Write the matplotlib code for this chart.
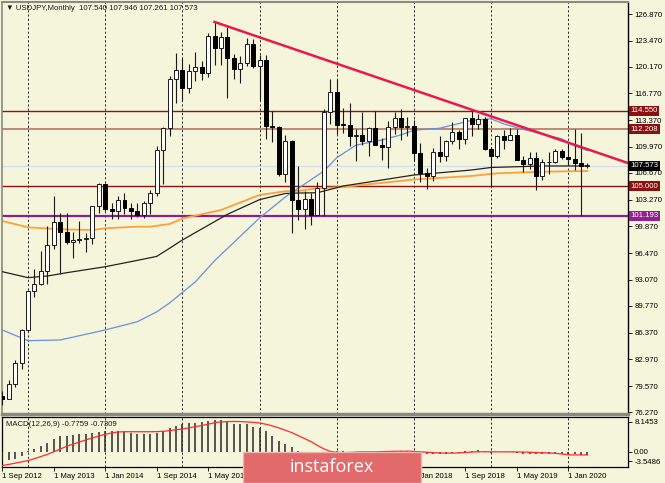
import matplotlib
matplotlib.use('Agg')
import matplotlib.pyplot as plt
import matplotlib.transforms as mtransforms
from matplotlib.patches import Rectangle
import numpy as np
import pandas as pd

plt.rcParams['font.family'] = ['Liberation Sans', 'DejaVu Sans']

# ---------------- data (monthly USDJPY, Sep 2012 .. Apr 2020) ----------------
opens = [78.30, 77.95, 79.77, 82.52,
         86.75, 91.71, 92.56, 94.22, 97.45, 100.45, 99.14, 97.88, 98.17, 98.26, 98.36, 102.44,
         105.30, 102.03, 101.79, 103.22, 102.22, 101.79, 101.32, 102.79, 104.07, 109.64, 112.32, 118.65,
         119.78, 117.49, 119.59, 120.12, 119.35, 124.13, 122.49, 123.91, 121.22, 119.87, 120.62, 123.09,
         120.21, 121.08, 112.67, 112.53, 106.50, 110.70, 103.20, 102.06, 103.41, 101.35, 104.81, 114.47,
         116.96, 112.79, 112.77, 111.39, 111.49, 110.76, 112.39, 110.25, 109.99, 112.51, 113.65, 112.53,
         112.69, 109.17, 106.67, 106.28, 109.33, 108.82, 110.67, 111.86, 111.03, 113.69, 112.92, 113.58,
         109.66, 108.87, 111.36, 110.85, 111.44, 108.27, 107.85, 108.57, 106.27, 108.07, 108.02, 109.50,
         108.68, 108.39, 107.90, 107.540]
highs = [78.95, 80.36, 82.84, 86.79,
         91.76, 94.46, 96.71, 99.95, 103.74, 101.53, 101.54, 99.15, 100.61, 99.00, 102.45, 105.41,
         105.44, 102.84, 103.76, 104.13, 102.79, 102.80, 103.14, 104.49, 110.09, 112.49, 118.98, 121.85,
         121.22, 120.48, 122.03, 120.84, 124.46, 125.86, 124.58, 125.28, 121.74, 121.49, 123.76, 123.68,
         121.68, 121.69, 114.55, 112.67, 111.45, 110.84, 107.49, 104.32, 104.08, 105.54, 114.83, 118.66,
         118.61, 114.95, 115.51, 112.20, 114.37, 112.47, 114.49, 111.05, 113.26, 114.45, 114.73, 113.75,
         113.39, 110.48, 107.29, 109.89, 111.40, 110.90, 113.18, 112.15, 113.70, 114.55, 114.21, 113.83,
         110.00, 111.48, 112.14, 112.40, 112.24, 108.80, 109.32, 109.32, 108.48, 109.29, 109.73, 109.73,
         110.29, 112.23, 111.71, 107.946]
lows = [77.13, 77.93, 79.40, 81.69,
        86.54, 90.85, 92.48, 92.57, 97.03, 93.79, 97.59, 95.80, 97.76, 96.56, 97.63, 101.62,
        101.77, 100.76, 100.75, 101.43, 100.81, 101.08, 100.99, 101.50, 103.76, 105.20, 111.30, 115.57,
        115.86, 116.86, 118.33, 118.52, 118.87, 120.40, 120.42, 116.13, 118.60, 118.06, 120.27, 119.99,
        115.98, 110.98, 110.66, 106.25, 105.54, 99.07, 100.67, 99.54, 100.09, 101.20, 101.19, 112.88,
        111.59, 111.69, 110.11, 108.13, 110.23, 108.81, 110.62, 108.26, 107.31, 111.65, 110.84, 111.40,
        108.28, 105.55, 104.63, 105.66, 108.11, 108.12, 110.28, 109.77, 110.38, 111.38, 112.30, 109.55,
        104.87, 108.52, 109.70, 110.84, 108.25, 106.78, 107.20, 104.46, 105.74, 106.48, 107.89, 108.43,
        107.65, 107.00, 101.18, 107.261]
closes = [77.95, 79.77, 82.52, 86.75,
          91.71, 92.56, 94.22, 97.45, 100.45, 99.14, 97.88, 98.17, 98.26, 98.36, 102.44, 105.30,
          102.03, 101.79, 103.22, 102.22, 101.79, 101.32, 102.79, 104.07, 109.64, 112.32, 118.65, 119.78,
          117.49, 119.59, 120.12, 119.35, 124.13, 122.49, 123.91, 121.22, 119.87, 120.62, 123.09, 120.21,
          121.08, 112.67, 112.53, 106.50, 110.70, 103.20, 102.06, 103.41, 101.35, 104.81, 114.47, 116.96,
          112.79, 112.77, 111.39, 111.49, 110.76, 112.39, 110.25, 109.99, 112.51, 113.65, 112.53, 112.69,
          109.17, 106.67, 106.28, 109.33, 108.82, 110.67, 111.86, 111.03, 113.69, 112.92, 113.58, 109.66,
          108.87, 111.36, 110.85, 111.44, 108.27, 107.85, 108.57, 106.27, 108.07, 108.02, 109.50, 108.68,
          108.39, 107.90, 107.54, 107.573]

dates = pd.date_range('2012-09-01', periods=len(closes), freq='MS')

# moving averages (month index, price)
ma_blue_idx = [0, 4, 9, 16, 21, 24, 26, 30, 33, 40, 44, 48, 50, 52, 55, 59, 62, 64, 68, 71, 73, 76, 78, 81, 87, 89, 91]
ma_blue_val = [86.70, 85.34, 85.43, 86.70, 87.75, 89.0, 90.13, 92.8, 95.5, 100.94, 103.6, 105.8, 106.9, 108.6,
               110.2, 110.85, 111.5, 112.1, 112.35, 112.95, 113.35, 113.55, 112.9, 112.2, 111.0, 110.1, 109.5]
ma_black_idx = [0, 4, 7, 10, 16, 21, 24, 26, 28, 35, 40, 44, 46, 49, 53, 64, 73, 76, 84, 91]
ma_black_val = [94.11, 93.35, 93.56, 93.98, 94.74, 95.55, 96.05, 97.08, 98.14, 101.4, 103.27, 104.05, 104.11,
                104.15, 105.0, 106.4, 107.04, 107.36, 107.55, 107.55]
ma_orange_idx = [0, 4, 9, 14, 16, 21, 23, 26, 28, 34, 40, 44, 46, 49, 53, 64, 73, 77, 84, 91]
ma_orange_val = [100.55, 99.75, 99.50, 99.41, 99.63, 99.83, 99.83, 100.17, 100.87, 101.95, 103.86, 104.34,
                 104.37, 104.71, 104.88, 105.83, 106.28, 106.62, 106.82, 106.91]

# MACD(12,26,9)
macd_main = [-2.2, -1.9, -1.6, -1.0, 0.1, 0.64, 1.27, 2.07, 3.1, 3.66, 3.8, 3.9, 4.06, 4.06, 4.3, 4.7,
             4.85, 4.85, 4.85, 4.7, 4.45, 4.2, 4.06, 4.06, 4.45, 4.85, 5.65, 6.05, 6.6, 6.84, 6.84, 7.08,
             7.24, 7.4, 7.4, 7.24, 6.6, 6.44, 6.44, 5.9, 5.65, 4.85, 3.66, 2.47, 1.83, 1.03, 0.2, -0.5,
             -1.1, -1.3, -0.8, -0.1, 0.1, 0.1, 0.05, -0.1, -0.1, 0.0, 0.0, -0.1, -0.05, 0.1, 0.1, 0.1,
             -0.1, -0.4, -0.5, -0.55, -0.5, -0.5, -0.3, -0.2, 0.1, 0.3, 0.4, 0.1, -0.2, -0.1, 0.0, 0.05,
             -0.2, -0.4, -0.45, -0.6, -0.6, -0.6, -0.5, -0.5, -0.45, -0.5, -0.7, -0.7759]
macd_signal = [-3.2, -2.95, -2.65, -2.35, -2.05, -1.6, -1.1, -0.6, 0.0, 0.65, 1.3, 1.8, 2.3, 2.8, 3.25, 3.7,
               4.1, 4.4, 4.65, 4.7, 4.7, 4.7, 4.7, 4.7, 4.72, 4.8, 4.95, 5.15, 5.35, 5.6, 5.9, 6.15,
               6.45, 6.8, 7.0, 7.08, 7.1, 7.08, 7.0, 6.9, 6.75, 6.45, 6.05, 5.6, 5.05, 4.5, 3.8, 3.1,
               2.4, 1.5, 0.7, 0.1, -0.1, -0.2, -0.15, -0.05, 0.0, 0.0, 0.0, 0.05, 0.1, 0.12, 0.15, 0.16,
               0.1, 0.0, -0.1, -0.2, -0.25, -0.3, -0.3, -0.25, -0.15, -0.05, 0.0, 0.02, 0.0, 0.0, 0.0, 0.0,
               -0.02, -0.05, -0.1, -0.15, -0.2, -0.25, -0.35, -0.5, -0.7, -0.72, -0.73, -0.7309]

# horizontal levels
levels = [114.550, 112.208, 105.000, 101.193]
level_labels = ['114.550', '112.208', '105.000', '101.193']
current_price = 107.573

# trend line anchors (Jun 2015 high, Oct 2018 touch)
trend_idx = [33, 73]
trend_val = [125.86, 114.70]

yticks = [126.87, 123.47, 120.17, 116.77, 113.37, 109.97, 106.67, 103.27, 99.87, 96.47, 93.07, 89.77,
          86.37, 82.97, 79.57, 76.27]
# time-axis labels every 8 months; those fully covered by the watermark are not shown
date_tick_idx = list(range(0, len(closes), 8))
date_label_idx = [i for i in date_tick_idx if i not in (40, 48, 56)]
grid_idx = list(range(4, len(closes), 12))

# ---------------- figure ----------------
BG = '#f5f5dc'
W, H = 665, 483
fig = plt.figure(figsize=(W / 100, H / 100), dpi=100, facecolor=BG)


def rect(l, t, r, b):
    return [l / W, 1 - b / H, (r - l) / W, (b - t) / H]


ax = fig.add_axes(rect(2, 2, 628, 414))
axm = fig.add_axes(rect(2, 417, 628, 467))
for a in (ax, axm):
    a.set_facecolor(BG)
    a.set_xlim(-0.05, 97.3)

ax.set_ylim(76.018, 128.396)
axm.set_ylim(-3.5486, 8.1453)

x = np.arange(len(closes))
o = np.array(opens); h = np.array(highs); l = np.array(lows); c = np.array(closes)
up = c >= o

# gridlines
for g in grid_idx:
    ax.axvline(g, color='#2a2a2a', lw=0.7, ls=(0, (2.2, 2.2)), zorder=1)
    axm.axvline(g, color='#2a2a2a', lw=0.7, ls=(0, (2.2, 2.2)), zorder=1)

# bid line
ax.axhline(current_price, color='#d6dcef', lw=0.9, zorder=1)

# levels
level_colors = ['#8b1414', '#b8806e', '#8b1414', '#8e1e8e']
level_lw = [1.0, 1.3, 1.0, 1.6]
for lv, col, lw in zip(levels, level_colors, level_lw):
    ax.axhline(lv, color=col, lw=lw, zorder=2)

# moving averages
ax.plot(ma_orange_idx, ma_orange_val, color='#ff9f3a', lw=1.3, zorder=2.5)
ax.plot(ma_black_idx, ma_black_val, color='#222222', lw=0.9, zorder=2.6)
ax.plot(ma_blue_idx, ma_blue_val, color='#6a8fe0', lw=0.9, zorder=2.7)

# candles
ax.vlines(x, l, h, color='#1a1a1a', lw=0.8, zorder=3)
bottoms = np.minimum(o, c)
heights = np.maximum(np.abs(c - o), 0.08)
ax.bar(x[up], heights[up], bottom=bottoms[up], width=0.62, facecolor='white',
       edgecolor='#1a1a1a', linewidth=0.7, zorder=4)
ax.bar(x[~up], heights[~up], bottom=bottoms[~up], width=0.62, facecolor='black',
       edgecolor='black', linewidth=0.7, zorder=4)

# trend line
k, b0 = np.polyfit(trend_idx, trend_val, 1)
tx = np.array([trend_idx[0], 97.3])
ax.plot(tx, k * tx + b0, color='#e8194b', lw=1.8, zorder=5, clip_on=True)

# axes styling (main)
ax.yaxis.tick_right()
ax.set_yticks(yticks)
ax.set_yticklabels([f'{v:.3f}' for v in yticks])
ax.tick_params(axis='y', direction='out', length=3, width=0.6, pad=1.5, labelsize=5.6, colors='black')
ax.tick_params(axis='x', bottom=False, labelbottom=False)
ax.spines['right'].set_color('black'); ax.spines['right'].set_linewidth(1.0)
ax.spines['top'].set_color('#8a8a80'); ax.spines['top'].set_linewidth(1.5)
ax.spines['left'].set_color('#8a8a80'); ax.spines['left'].set_linewidth(1.2)
ax.spines['bottom'].set_color('#8a8a80'); ax.spines['bottom'].set_linewidth(2.5)

# right-side price boxes
trans = mtransforms.blended_transform_factory(ax.transAxes, ax.transData)
box_colors = ['#8b1010', '#8b1010', '#8b1010', '#931f93']
for lv, lab, col in zip(levels, level_labels, box_colors):
    ax.text(1.0 + 2.5 / 626, lv, lab, transform=trans, ha='left', va='center', fontsize=5.6,
            color='white', clip_on=False, zorder=6,
            bbox=dict(boxstyle='square,pad=0.18', fc=col, ec='none'))
ax.text(1.0 + 2.5 / 626, current_price, f'{current_price:.3f}', transform=trans, ha='left', va='center',
        fontsize=5.6, color='white', clip_on=False, zorder=6,
        bbox=dict(boxstyle='square,pad=0.18', fc='black', ec='none'))

# MACD panel
axm.vlines(x, 0, macd_main, color='#2a2a2a', lw=1.1, zorder=3)
axm.plot(x, macd_signal, color='#ff2a2a', lw=0.9, zorder=4)
axm.yaxis.tick_right()
axm.set_yticks([7.0, 0.0, -2.15])
axm.set_yticklabels(['8.1453', '0.00', '-3.5486'])
axm.tick_params(axis='y', direction='out', length=3, width=0.6, pad=1.5, labelsize=5.6)
axm.set_xticks(date_tick_idx)
axm.set_xticklabels([f'1 {dates[i].strftime("%b %Y")}' if i in date_label_idx else ''
                     for i in date_tick_idx])
for t in axm.get_xticklabels():
    t.set_ha('left')
axm.tick_params(axis='x', direction='out', length=3, width=0.6, pad=1.5, labelsize=5.6)
for s in axm.spines.values():
    s.set_color('black'); s.set_linewidth(0.9)

# texts
fig.text(6 / W, 1 - 8 / H, '\u25bc USDJPY,Monthly  107.540 107.946 107.261 107.573',
         fontsize=5.6, va='center', ha='left', color='#1a1a1a')
fig.text(6 / W, 1 - 424 / H, 'MACD(12,26,9) -0.7759 -0.7309', fontsize=5.6, va='center', ha='left',
         color='#1a1a1a')

# watermark
wm = Rectangle((243 / W, 0), (421 - 243) / W, (483 - 452) / H, transform=fig.transFigure,
               facecolor='#e26a6a', edgecolor='#f0b4b0', linewidth=1.0, zorder=10)
fig.add_artist(wm)
fig.text(332 / W, 1 - 467 / H, 'instaforex', fontsize=13, color='white', ha='center', va='center',
         family=['Open Sans', 'DejaVu Sans'], zorder=11)

fig.savefig('out.png', dpi=100, facecolor=BG)
